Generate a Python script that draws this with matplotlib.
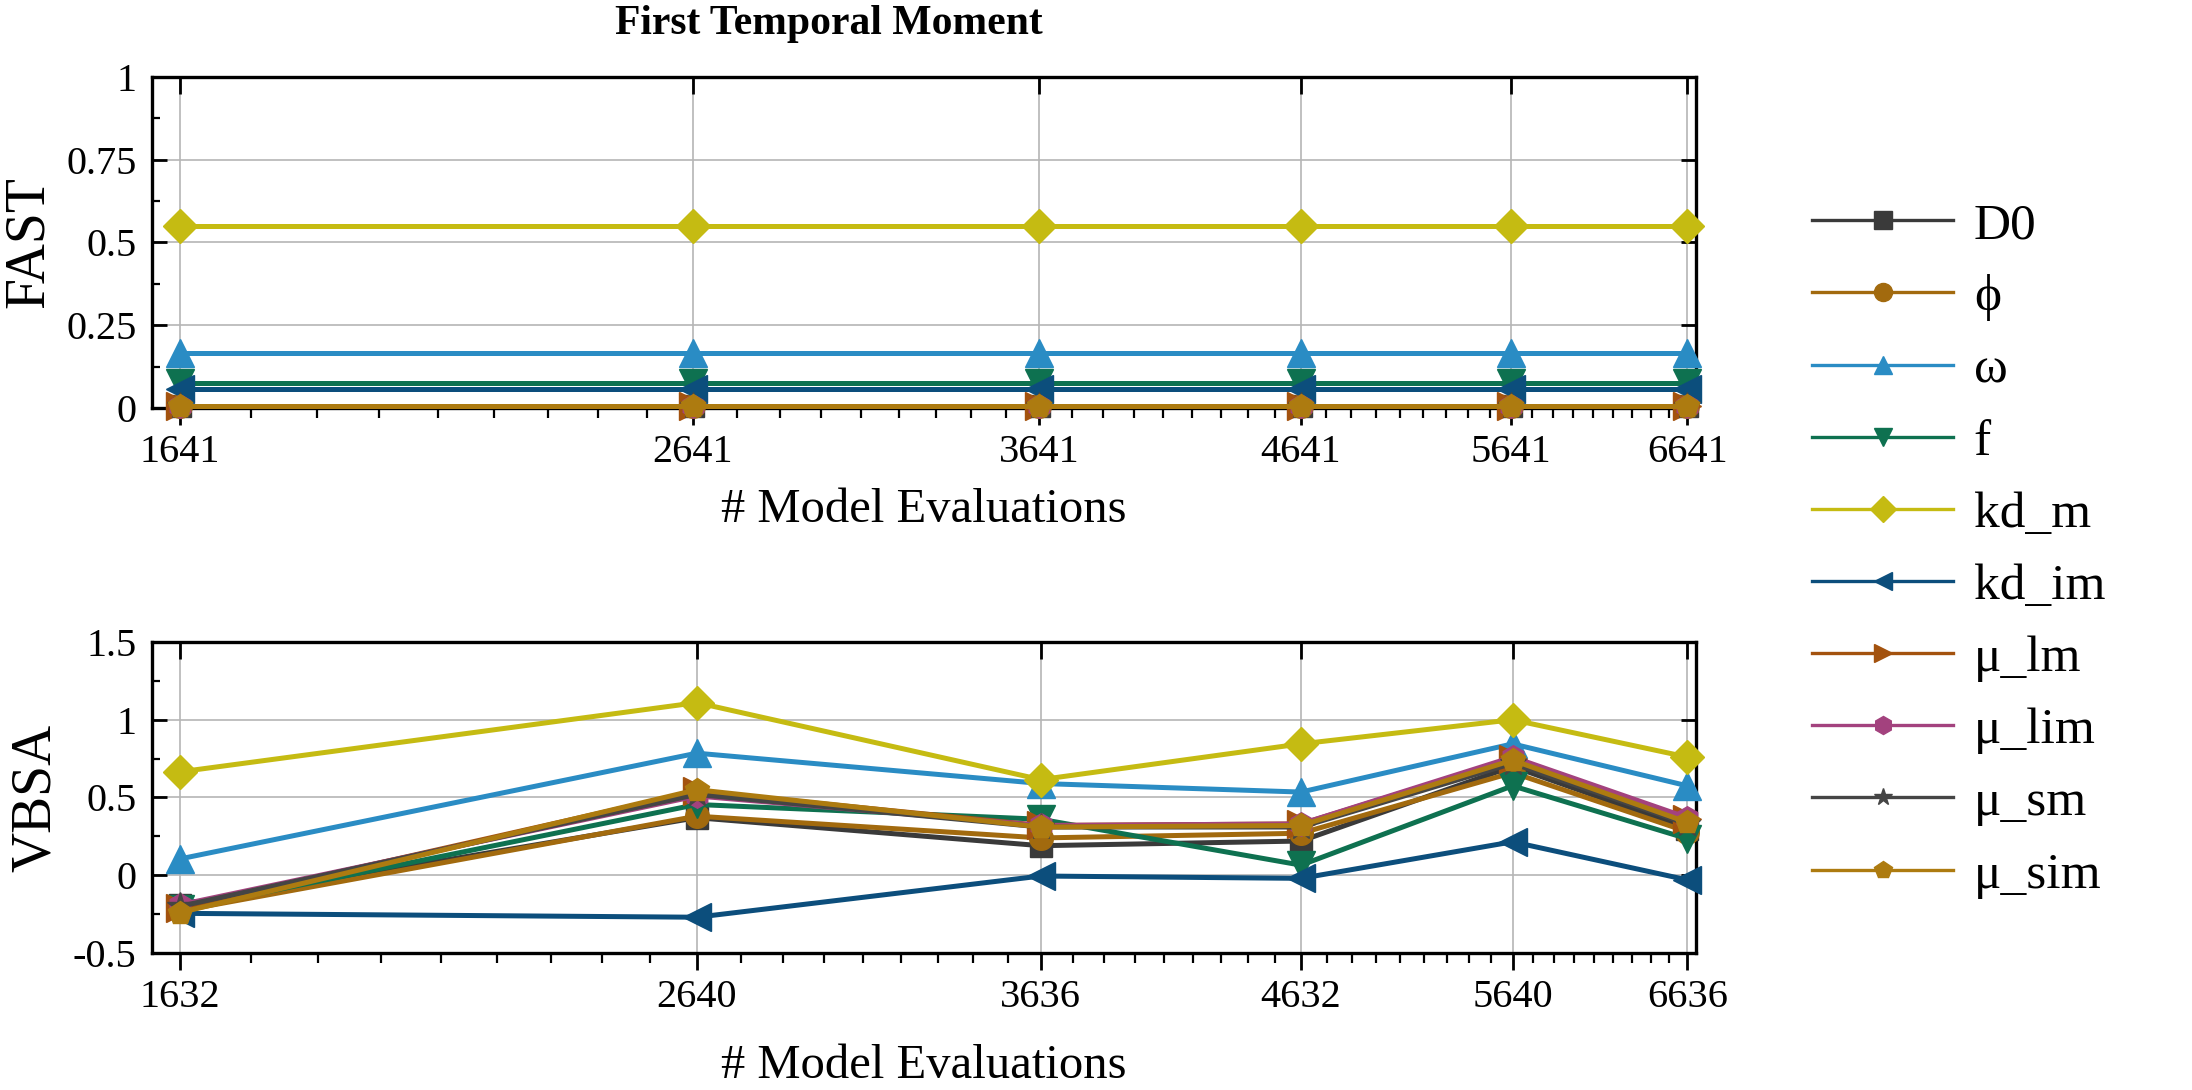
import matplotlib
matplotlib.use("Agg")
import matplotlib.pyplot as plt
from matplotlib.lines import Line2D
from matplotlib.ticker import FixedLocator, NullFormatter

# ---- data -----------------------------------------------------------------
fast_evals = [1641, 2641, 3641, 4641, 5641, 6641]
vbsa_evals = [1632, 2640, 3636, 4632, 5640, 6636]

params = ["D0", "\u03d5", "\u03c9", "f", "kd_m", "kd_im",
          "\u03bc_lm", "\u03bc_lim", "\u03bc_sm", "\u03bc_sim"]

fast_D0 = [0.005] * 6
fast_phi = [0.005] * 6
fast_omega = [0.167] * 6
fast_f = [0.075] * 6
fast_kdm = [0.55] * 6
fast_kdim = [0.058] * 6
fast_mulm = [0.005] * 6
fast_mulim = [0.005] * 6
fast_musm = [0.005] * 6
fast_musim = [0.005] * 6

vbsa_D0 = [-0.19, 0.37, 0.19, 0.22, 0.70, 0.30]
vbsa_phi = [-0.23, 0.38, 0.24, 0.27, 0.66, 0.28]
vbsa_omega = [0.105, 0.785, 0.59, 0.535, 0.845, 0.575]
vbsa_f = [-0.22, 0.455, 0.36, 0.065, 0.575, 0.235]
vbsa_kdm = [0.665, 1.11, 0.615, 0.845, 1.0, 0.76]
vbsa_kdim = [-0.245, -0.27, -0.005, -0.02, 0.215, -0.03]
vbsa_mulm = [-0.21, 0.54, 0.32, 0.33, 0.75, 0.36]
vbsa_mulim = [-0.19, 0.51, 0.32, 0.33, 0.76, 0.37]
vbsa_musm = [-0.20, 0.52, 0.31, 0.31, 0.72, 0.33]
vbsa_musim = [-0.24, 0.55, 0.31, 0.32, 0.74, 0.34]

fast_series = [fast_D0, fast_phi, fast_omega, fast_f, fast_kdm, fast_kdim,
               fast_mulm, fast_mulim, fast_musm, fast_musim]
vbsa_series = [vbsa_D0, vbsa_phi, vbsa_omega, vbsa_f, vbsa_kdm, vbsa_kdim,
               vbsa_mulm, vbsa_mulim, vbsa_musm, vbsa_musim]

# ---- styles ---------------------------------------------------------------
colors = ["#3a3a3a", "#a26a0e", "#2a8cc4", "#0e7150", "#c5bb12",
          "#0c4e7c", "#a3520e", "#a3427e", "#454545", "#ad7b10"]
markers = ["s", "o", "^", "v", "D", "<", ">", "h", "*", "p"]
msizes = [16, 17, 20, 20, 17, 20, 20, 17, 20, 18]

SERIF = "Liberation Serif"
plt.rcParams["font.family"] = [SERIF, "DejaVu Serif"]

fig = plt.figure(figsize=(21.92, 10.90), dpi=100)
ax_top = fig.add_axes([0.0693, 0.6257, 0.7046, 0.3037])
ax_bot = fig.add_axes([0.0693, 0.1257, 0.7046, 0.2853])


def minor_positions(ticks):
    pos = []
    for a, b in zip(ticks[:-1], ticks[1:]):
        pos += [a + (b - a) * k / 9 for k in range(1, 9)]
    return pos


def style_axes(ax, xticks, xlim, ylim, yticks, ylabels, yminor, ylabel, xpad):
    ax.set_xscale("log")
    ax.set_xlim(*xlim)
    ax.set_ylim(*ylim)
    ax.xaxis.set_major_locator(FixedLocator(xticks))
    ax.xaxis.set_minor_locator(FixedLocator(minor_positions(xticks)))
    ax.xaxis.set_minor_formatter(NullFormatter())
    ax.set_xticklabels([str(t) for t in xticks])
    ax.set_yticks(yticks)
    ax.set_yticklabels(ylabels)
    ax.yaxis.set_minor_locator(FixedLocator(yminor))
    ax.grid(True, which="major", color="#b5b5b5", linewidth=1.2)
    ax.set_axisbelow(True)
    for s in ax.spines.values():
        s.set_linewidth(2.4)
    ax.tick_params(axis="x", which="major", direction="out", length=12,
                   width=2, labelsize=29, pad=7, top=True)
    ax.tick_params(axis="x", which="minor", direction="out", length=7,
                   width=1.6, top=False)
    ax.tick_params(axis="y", which="major", direction="in", length=11,
                   width=2, labelsize=29, pad=11, right=True)
    ax.tick_params(axis="y", which="minor", direction="in", length=6,
                   width=1.6, right=False)
    # top ticks point into the axes
    for t in ax.xaxis.get_major_ticks():
        t.tick2line.set_marker(3)
        t.tick2line.set_markersize(12)
    ax.set_ylabel(ylabel, fontsize=40, labelpad=8)
    ax.set_xlabel("# Model Evaluations", fontsize=35, labelpad=xpad)


for vals, c, m, ms in zip(fast_series, colors, markers, msizes):
    ax_top.plot(fast_evals, vals, color=c, marker=m, markersize=ms,
                linewidth=3.6, clip_on=False, zorder=3)
for vals, c, m, ms in zip(vbsa_series, colors, markers, msizes):
    ax_bot.plot(vbsa_evals, vals, color=c, marker=m, markersize=ms,
                linewidth=3.6, clip_on=False, zorder=3)

style_axes(ax_top, fast_evals, (1599, 6697), (0, 1),
           [0, 0.25, 0.5, 0.75, 1], ["0", "0.25", "0.5", "0.75", "1"],
           [0.125, 0.375, 0.625, 0.875], "FAST", 12)
style_axes(ax_bot, vbsa_evals, (1590, 6692), (-0.5, 1.5),
           [-0.5, 0, 0.5, 1, 1.5], ["-0.5", "0", "0.5", "1", "1.5"],
           [-0.25, 0.25, 0.75, 1.25], "VBSA", 20)

fig.text(0.378, 0.978, "First Temporal Moment", ha="center", va="center",
         fontsize=30, fontweight="bold")

handles = [Line2D([], [], color=c, marker=m, markersize=13, linewidth=2.4)
           for c, m in zip(colors, markers)]
fig.legend(handles, params, loc="center left", bbox_to_anchor=(0.8266, 0.495),
           frameon=False, fontsize=37, handlelength=2.75, handletextpad=0.4,
           labelspacing=0.49, borderpad=0, borderaxespad=0)

fig.savefig("out.png", dpi=100)
